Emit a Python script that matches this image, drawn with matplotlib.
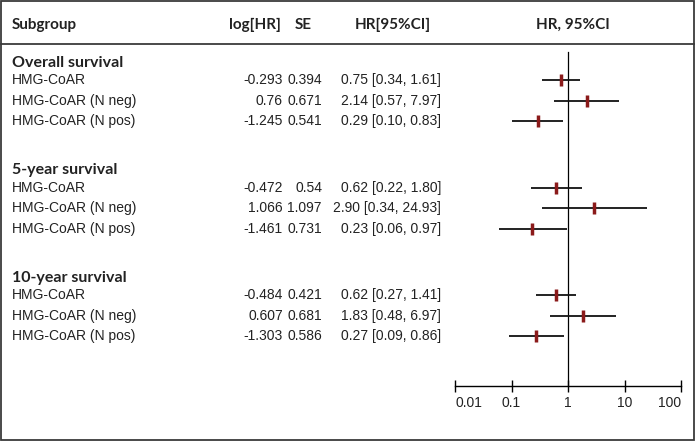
import numpy as np
import matplotlib.pyplot as plt
from matplotlib.patches import Rectangle
from matplotlib import font_manager

# data
groups = ['Overall survival', '5-year survival', '10-year survival']
subgroups = ['HMG-CoAR', 'HMG-CoAR (N neg)', 'HMG-CoAR (N pos)']
log_hr = [[-0.293, 0.76, -1.245], [-0.472, 1.066, -1.461], [-0.484, 0.607, -1.303]]
se = [[0.394, 0.671, 0.541], [0.54, 1.097, 0.731], [0.421, 0.681, 0.586]]
hr = [[0.75, 2.14, 0.29], [0.62, 2.90, 0.23], [0.62, 1.83, 0.27]]
ci_low = [[0.34, 0.57, 0.10], [0.22, 0.34, 0.06], [0.27, 0.48, 0.09]]
ci_high = [[1.61, 7.97, 0.83], [1.80, 24.93, 0.97], [1.41, 6.97, 0.86]]
xticks = [0.01, 0.1, 1, 10, 100]
xtick_labels = ['0.01', '0.1', '1', '10', '100']

W, H = 697, 443
body_font = 'Liberation Sans'
head_font = 'Lato'
body_size = 10
head_size = 11
title_size = 11.5
txt_col = '#222222'
marker_col = '#8b1a1a'

# row layout (pixels)
row0_px, pitch, group_step = 80, 20.5, 5.25
def to_px(y):
    return row0_px + y * pitch
def to_row(p):
    return (p - row0_px) / pitch

fig = plt.figure(figsize=(W / 100, H / 100), dpi=100)

# full-figure axes in pixel units for the table text and frame
tax = fig.add_axes([0, 0, 1, 1])
tax.set_xlim(0, W)
tax.set_ylim(H, 0)
tax.axis('off')
tax.add_patch(Rectangle((1, 1), W - 4, H - 4, fill=False, ec='#3a3a3a', lw=1.3))
tax.plot([1, W - 3], [44, 44], color='#3a3a3a', lw=1.3)

head_y = 25
hkw = dict(va='center', fontsize=head_size, fontweight='bold', family=head_font, color=txt_col)
tax.text(12, head_y, 'Subgroup', ha='left', **hkw)
tax.text(255, head_y, 'log[HR]', ha='center', **hkw)
tax.text(303, head_y, 'SE', ha='center', **hkw)
tax.text(393, head_y, 'HR[95%CI]', ha='center', **hkw)
tax.text(573, head_y, 'HR, 95%CI', ha='center', **hkw)

nkw = dict(ha='right', va='center', fontsize=body_size, family=body_font, color=txt_col)
for g, name in enumerate(groups):
    ty = to_px(g * group_step - 0.85)
    tax.text(12, ty, name, ha='left', va='center', fontsize=title_size, fontweight='bold',
             family=head_font, color=txt_col)
    for k, sub in enumerate(subgroups):
        y = to_px(g * group_step + k)
        tax.text(12, y, sub, ha='left', va='center', fontsize=body_size, family=body_font, color=txt_col)
        tax.text(283, y, str(log_hr[g][k]), **nkw)
        tax.text(322, y, str(se[g][k]), **nkw)
        tax.text(441, y, f'{hr[g][k]:.2f} [{ci_low[g][k]:.2f}, {ci_high[g][k]:.2f}]', **nkw)

# forest axes
x0, x1, ytop, ybot = 455, 681, 44, 386
ax = fig.add_axes([x0 / W, 1 - ybot / H, (x1 - x0) / W, (ybot - ytop) / H])
ax.patch.set_alpha(0)
ax.set_xscale('log')
ax.set_xlim(0.01, 100)
ax.set_ylim(to_row(ybot), to_row(ytop))
for s in ['top', 'left', 'right']:
    ax.spines[s].set_visible(False)
ax.spines['bottom'].set_linewidth(1.0)
ax.set_yticks([])
ax.set_xticks(xticks)
ax.set_xticklabels(xtick_labels, fontsize=body_size, family=body_font, color=txt_col)
ax.minorticks_off()
ax.tick_params(axis='x', direction='inout', length=9, width=1.0, pad=3)
tl = ax.get_xticklabels()
tl[0].set_ha('left')
tl[-1].set_ha('right')

ax.axvline(1, ymin=0, ymax=(ybot - 52) / (ybot - ytop), color='black', lw=0.9)

for g in range(len(groups)):
    for k in range(len(subgroups)):
        y = g * group_step + k
        ax.plot([ci_low[g][k], ci_high[g][k]], [y, y], color='#111111', lw=1.3, solid_capstyle='butt')
        ax.plot(hr[g][k], y, marker='|', ms=9, mew=2.5, color=marker_col)

fig.savefig('out.png', dpi=100)
